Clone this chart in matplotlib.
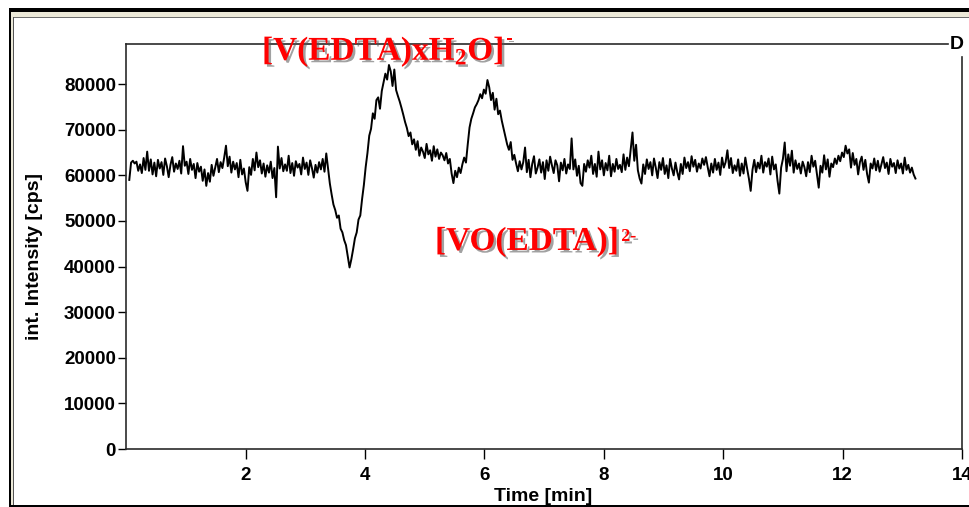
import numpy as np
import matplotlib
matplotlib.use('Agg')
import matplotlib.pyplot as plt
import matplotlib.patheffects as pe
from matplotlib.patches import Rectangle

plt.rcParams['font.family'] = 'Liberation Sans'
plt.rcParams['font.weight'] = 'bold'
plt.rcParams['mathtext.fontset'] = 'custom'
plt.rcParams['mathtext.rm'] = 'Liberation Serif:bold'
plt.rcParams['mathtext.bf'] = 'Liberation Serif:bold'
plt.rcParams['mathtext.default'] = 'bf'

# chromatogram trace, one reading every 0.03 min from 0.05 min
t_start = 0.05
t_step = 0.03
intensity = [
    59000, 62800, 63200, 62600, 63000, 61000, 62400, 60500, 63800, 61200, 65200,
    61000, 63500, 60200, 62800, 59800, 63400, 61500, 62900, 60100, 63700, 62000,
    59600, 62300, 64000, 60800, 62600, 61400, 63200, 60400, 66400, 62100, 63000,
    60300, 63600, 61200, 62500, 59400, 62700, 60800, 61900, 58800, 61300, 57700,
    60500, 58600, 62300, 59900, 61800, 63600, 60700, 62900, 61600, 63900, 66500,
    62000, 64100, 60600, 63000, 61300, 62700, 59600, 63400, 60200, 61500, 58500,
    56600, 61800, 60100, 63600, 61100, 65000, 61800, 63300, 60400, 62600, 59700,
    62200, 60600, 63000, 59400, 61600, 55200, 66300, 61500, 63800, 60900, 62400,
    61000, 64300, 60500, 62700, 59900, 63100, 61700, 62500, 60200, 63900, 61400,
    62800, 60100, 63300, 61600, 59500, 62300, 60600, 62900, 61300, 63600, 60800,
    64800, 61500, 58200, 55800, 53600, 52400, 50700, 51200, 48300, 47500, 45800,
    44700, 42300, 39800, 41600, 43800, 46200, 47500, 50300, 51200, 54800, 57900,
    61800, 64900, 68700, 70200, 73600, 72400, 76500, 77100, 74600, 78500, 80400,
    82300, 81000, 84200, 82800, 79600, 83200, 78700, 77400, 76200, 74800, 73300,
    71700, 70400, 68600, 69400, 66800, 67900, 65600, 67500, 64300, 66100, 65200,
    63800, 66900, 64600, 65500, 63200, 66400, 64100, 65700, 63600, 65000, 64400,
    63300, 64900, 62600, 63600, 60400, 58300, 61000, 59600, 61700, 60500, 62400,
    63900, 62800, 66800, 70500, 72400, 73600, 74900, 75600, 76500, 77800, 76900,
    78800, 77900, 80900, 79300, 76500, 78100, 74400, 76800, 73400, 74200, 72000,
    70300, 68500, 66800, 65600, 67300, 63400, 64500, 62600, 60900, 63100, 61300,
    62900, 66100, 60700, 63400, 59600, 62500, 64200, 60400, 61700, 63500, 60600,
    62900, 59200, 63300, 61000, 64100, 62200, 60500, 63300, 62200, 58700, 62800,
    61100, 63600, 60400, 62400, 61400, 68100, 61300, 63500, 59900, 62100, 58300,
    57700, 62500, 60800, 63300, 61700, 64300, 60300, 62500, 59700, 65200, 61300,
    63300, 60000, 62700, 61100, 64300, 59800, 62500, 60800, 63600, 61400, 62300,
    60700, 64600, 61200, 63900, 62000, 65600, 69400, 63200, 66700, 61100, 59300,
    58200, 62400, 60300, 63500, 61400, 62900, 60000, 63700, 61700, 59400, 62900,
    61200, 63800, 60300, 62200, 59400, 63600, 61500, 60000, 62800, 60700, 59100,
    62500, 60300, 63900, 61600, 62900, 60900, 64200, 61900, 63400, 60800, 62600,
    61500, 63700, 62300, 64000, 61800, 59800, 62600, 60600, 63600, 61200, 62800,
    60100, 63900, 61700, 62900, 65500, 61600, 63800, 60500, 62200, 61000, 63500,
    59900, 62600, 60400, 63900, 61500, 59300, 56600, 61200, 63400, 60700, 62800,
    61500, 64300, 60600, 62900, 61900, 63700, 60200, 64100, 61300, 62400, 58800,
    56000, 61700, 63600, 67200, 60900, 64600, 62100, 65400, 60600, 63300, 61400,
    62600, 60400, 63000, 61800, 59800, 62900, 60700, 64300, 61900, 63200, 60300,
    57300, 62100, 60600, 64400, 61300, 63500, 59700, 62600, 61800, 63700, 62500,
    64300, 63100, 65000, 64000, 66500, 64800, 65700, 61700, 64900, 62300, 63600,
    60200, 62900, 64100, 61200, 63400, 60300, 58400, 62600, 61500, 63700, 61100,
    63200, 60800, 62400, 64000, 61600, 62800, 60300, 63600, 61900, 62700, 60500,
    63300, 61500, 62600, 60400, 63900, 61200, 62300, 60600, 61700, 60200, 59300,
]
time = t_start + t_step * np.arange(len(intensity))

x_ticks = [2, 4, 6, 8, 10, 12, 14]
y_ticks = [0, 10000, 20000, 30000, 40000, 50000, 60000, 70000, 80000]

W, H = 970, 507
fig = plt.figure(figsize=(W / 100, H / 100), dpi=100)
fig.patch.set_facecolor('white')

# window frame drawn in pixel space
bg = fig.add_axes([0, 0, 1, 1])
bg.set_xlim(0, W)
bg.set_ylim(H, 0)
bg.axis('off')
bg.add_patch(Rectangle((10, 8), W - 10, 3.5, color='black', lw=0))
bg.add_patch(Rectangle((12, 11.5), W - 12, 5.5, color='#ECE9D8', lw=0))
bg.add_patch(Rectangle((14, 16.8), W - 14, 1.5, color='#6E6E6E', lw=0))
bg.add_patch(Rectangle((9.5, 8), 2, H - 8, color='black', lw=0))
bg.add_patch(Rectangle((11.5, 11.5), 2, H - 12, color='#ECE9D8', lw=0))
bg.add_patch(Rectangle((13.2, 16.8), 1.3, H - 17, color='#555555', lw=0))
bg.add_patch(Rectangle((9.5, 505), W - 9.5, 2, color='black', lw=0))

ax = fig.add_axes([126.3 / W, (H - 449) / H, (962 - 126.3) / W, 405 / H])
ax.set_facecolor('none')
ax.plot(time, intensity, color='black', lw=1.4)

ax.set_xlim(0, 14)
ax.set_ylim(0, 88800)
ax.set_xticks(x_ticks)
ax.set_yticks(y_ticks)
ax.set_xticklabels([str(v) for v in x_ticks])
ax.set_yticklabels([str(v) for v in y_ticks])
ax.tick_params(axis='x', direction='out', length=7.5, width=1.0, pad=5.5,
               labelsize=13.5, colors='black')
ax.tick_params(axis='y', direction='out', length=6, width=1.0, pad=1.5,
               labelsize=13.5, colors='black')

for side in ['left', 'bottom', 'top', 'right']:
    ax.spines[side].set_color('#2a2a2a')
    ax.spines[side].set_linewidth(1.2)
ax.spines['top'].set_bounds(0, 13.77)
ax.spines['right'].set_bounds(0, 85960)

ax.set_ylabel('int. Intensity [cps]', fontsize=14, fontweight='bold')
ax.yaxis.set_label_coords(-0.0997, 0.4765)
ax.set_xlabel('Time [min]', fontsize=14, fontweight='bold')
ax.xaxis.set_label_coords(0.4986, -0.096)

ax.text(13.92, 88600, 'D', fontsize=14, fontweight='bold', ha='center',
        va='center', clip_on=False)

# red species labels with a soft drop shadow and small raised charges
shadow = [pe.withSimplePatchShadow(offset=(1.8, -1.8), shadow_rgbFace='#555555',
                                   alpha=0.55)]
red_font = dict(color='#FF0000', family='Liberation Serif', fontweight='bold')

lab1 = ax.text(2.273, 85300, r'[V(EDTA)xH$_2$O]', fontsize=24, ha='left',
               va='baseline', zorder=6, clip_on=False, path_effects=shadow,
               **red_font)
ax.annotate('-', xy=(1, 1), xycoords=lab1, xytext=(2, 4),
            textcoords='offset pixels', fontsize=14, ha='left', va='top',
            zorder=6, annotation_clip=False, path_effects=shadow, **red_font)

lab2 = ax.text(5.171, 43640, '[VO(EDTA)]', fontsize=24, ha='left',
               va='baseline', zorder=6, clip_on=False, path_effects=shadow,
               **red_font)
ax.annotate('2-', xy=(1, 1), xycoords=lab2, xytext=(2, -2),
            textcoords='offset pixels', fontsize=13, ha='left', va='top',
            zorder=6, annotation_clip=False, path_effects=shadow, **red_font)

fig.savefig('out.png', dpi=100, facecolor='white')
